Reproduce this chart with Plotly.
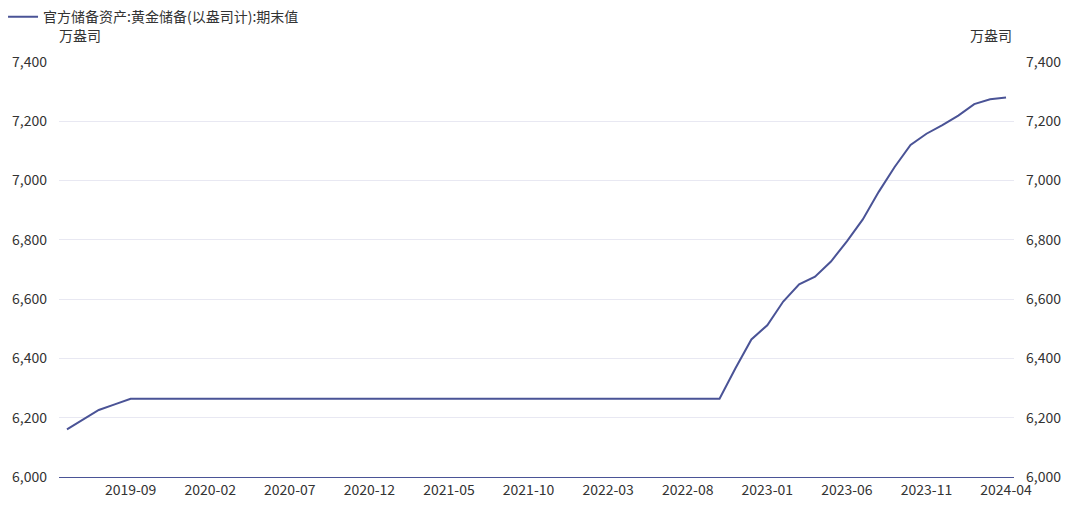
import plotly.graph_objects as go

months = [f"{y}-{m:02d}" for y in range(2019, 2025) for m in range(1, 13)]
months = months[months.index("2019-05"):months.index("2024-04") + 1]

values = [6161, 6194, 6226, 6245, 6264, 6264, 6264, 6264,
          6264, 6264, 6264, 6264, 6264, 6264, 6264, 6264, 6264, 6264, 6264, 6264,
          6264, 6264, 6264, 6264, 6264, 6264, 6264, 6264, 6264, 6264, 6264, 6264,
          6264, 6264, 6264, 6264, 6264, 6264, 6264, 6264, 6264, 6264, 6367, 6464,
          6512, 6592, 6650, 6676, 6727, 6795, 6869, 6962, 7046, 7120, 7158, 7187,
          7219, 7258, 7274, 7280]

tick_labels = ["2019-09", "2020-02", "2020-07", "2020-12", "2021-05", "2021-10",
               "2022-03", "2022-08", "2023-01", "2023-06", "2023-11", "2024-04"]
y_ticks = [6000, 6200, 6400, 6600, 6800, 7000, 7200, 7400]

series_name = "官方储备资产:黄金储备(以盎司计):期末值"
unit = "万盎司"
color = "#4a5396"
font = "Microsoft YaHei, Noto Sans CJK SC, sans-serif"
txt = "#333"

fig = go.Figure()
fig.add_trace(go.Scatter(x=months, y=values, mode="lines", name=series_name,
                         line=dict(color=color, width=2)))
fig.add_trace(go.Scatter(x=months, y=values, mode="lines", yaxis="y2",
                         showlegend=False, hoverinfo="skip",
                         line=dict(color="rgba(0,0,0,0)", width=0)))

# page body has an 8px default margin, so the figure is offset by 8px
fig.update_layout(
    width=1065, height=501,
    margin=dict(l=51, r=59, t=54, b=32, autoexpand=False),
    paper_bgcolor="white", plot_bgcolor="white",
    font=dict(family=font, size=14, color=txt),
    showlegend=True,
    legend=dict(x=-0.0586, y=1.108, xanchor="left", yanchor="middle",
                orientation="h", font=dict(size=14, color=txt),
                itemwidth=30, bgcolor="rgba(0,0,0,0)"),
    xaxis=dict(type="category", categoryorder="array", categoryarray=months,
               range=[-0.5, len(months) - 0.5], automargin=False,
               tickmode="array", tickvals=tick_labels, ticktext=tick_labels,
               showgrid=False, showline=True, linecolor=color, linewidth=1,
               ticks="", tickfont=dict(size=14, color=txt), zeroline=False),
    yaxis=dict(range=[6000, 7400], tickvals=y_ticks, tickformat=",",
               automargin=False, ticklabelstandoff=11,
               showgrid=True, gridcolor="#e8e8f2", gridwidth=1,
               showline=False, zeroline=False, ticks="",
               tickfont=dict(size=14, color=txt)),
    yaxis2=dict(range=[6000, 7400], tickvals=y_ticks, tickformat=",",
                automargin=False, ticklabelstandoff=11,
                overlaying="y", side="right", showgrid=False,
                showline=False, zeroline=False, ticks="",
                tickfont=dict(size=14, color=txt)),
    annotations=[
        dict(text=unit, xref="paper", yref="paper", x=-0.002, y=1.065,
             xanchor="left", yanchor="middle", showarrow=False,
             font=dict(size=14, color=txt)),
        dict(text=unit, xref="paper", yref="paper", x=1.0, y=1.065,
             xanchor="right", yanchor="middle", showarrow=False,
             font=dict(size=14, color=txt)),
    ],
)

fig.write_html("out.html")
